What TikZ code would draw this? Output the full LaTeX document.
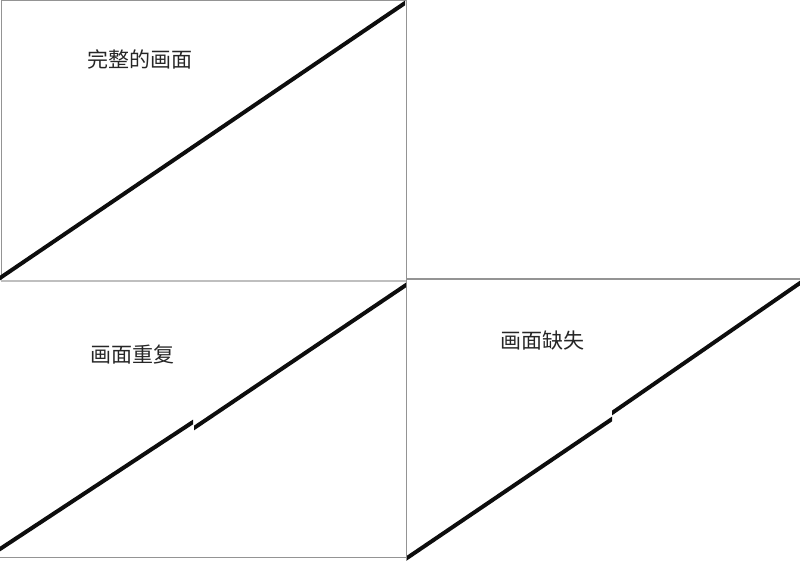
\documentclass[tikz,border=0pt]{standalone}
\usepackage{fontspec}
\newfontfamily\cjk{Noto Sans CJK SC}
\begin{document}
\begin{tikzpicture}[x=1pt,y=-1pt,
  frame/.style={draw=black!42,line width=1pt},
  lightframe/.style={draw=black!25,line width=2pt},
  bar/.style={fill=black!95},
  caption/.style={font=\cjk\fontsize{21}{24}\selectfont,inner sep=0pt,text=black!85}]
\useasboundingbox (0,0) rectangle (800,561);
% frames
\draw[frame] (406,280) -- (1,280) -- (1,1) -- (406,1);
\draw[lightframe] (1,280.5) -- (406,280.5);
\draw[frame] (406,279) -- (800,279);
\draw[frame] (406,0) -- (406,561);
\draw[frame] (0,557) -- (406,557);
% top-left full line
\fill[bar] (0,275.6) -- (405,0.6) -- (405,5.4) -- (0,280.4) -- cycle;
% bottom-left: repeated
\fill[bar] (0,546.6) -- (193,419.6) -- (193,424.4) -- (0,551.4) -- cycle;
\fill[bar] (194,425.6) -- (406,282.6) -- (406,287.4) -- (194,430.4) -- cycle;
% bottom-right: missing
\fill[bar] (407,555.6) -- (612,416.6) -- (612,421.4) -- (407,560.4) -- cycle;
\fill[bar] (612,410.6) -- (800,280.6) -- (800,285.4) -- (612,415.4) -- cycle;
% captions
\node[caption] (t1) at (140,59) {完整的画面};
\node[caption] (t2) at (132,355) {画面重复};
\node[caption] (t3) at (542,341) {画面缺失};
\end{tikzpicture}
\end{document}
